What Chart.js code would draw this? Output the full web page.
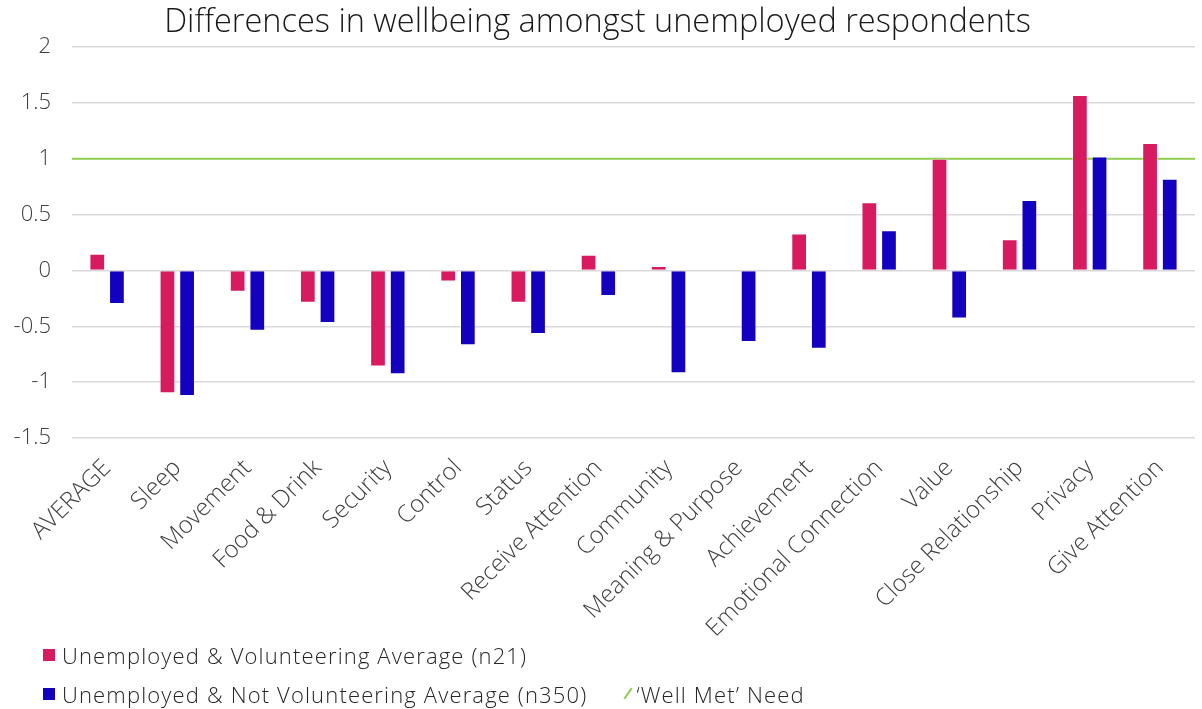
<!DOCTYPE html>
<html>
<head>
<meta charset="utf-8">
<title>Differences in wellbeing amongst unemployed respondents</title>
<script src="https://cdn.jsdelivr.net/npm/chart.js@4.4.1/dist/chart.umd.min.js"></script>
<style>
  body { margin: 0; background: #fff; }
  #wrap { position: relative; width: 1202px; height: 709px; }
  #legend { position: absolute; left: 43px; top: 635px; font-family: "Open Sans", sans-serif; font-weight: 300; font-size: 22px; letter-spacing: 1.15px; color: #262626; }
  #legend .row { height: 39px; display: flex; align-items: center; }
  #legend .item { display: flex; align-items: center; margin-right: 36px; }
  #legend .box { width: 12px; height: 12px; margin-right: 7px; }
  #legend .slash { width: 2px; height: 13px; margin: 0 7px 0 4px; transform: rotate(35deg); }
</style>
</head>
<body>
<div id="wrap">
  <canvas id="wellbeingChart" width="1202" height="709"></canvas>
  <div id="legend"></div>
</div>
<script>
// chart data
const categories = ['AVERAGE', 'Sleep', 'Movement', 'Food & Drink', 'Security', 'Control', 'Status',
  'Receive Attention', 'Community', 'Meaning & Purpose', 'Achievement', 'Emotional Connection',
  'Value', 'Close Relationship', 'Privacy', 'Give Attention'];
const volunteering = [0.15, -1.10, -0.19, -0.29, -0.86, -0.10, -0.29, 0.14, 0.04, 0, 0.33, 0.61, 1.0, 0.28, 1.57, 1.14];
const notVolunteering = [-0.30, -1.125, -0.54, -0.47, -0.93, -0.67, -0.57, -0.23, -0.92, -0.64, -0.70, 0.36, -0.43, 0.63, 1.02, 0.82];
const wellMetLevel = 1;
const seriesNames = ['Unemployed & Volunteering Average (n21)', 'Unemployed & Not Volunteering Average (n350)', '\u2018Well Met\u2019 Need'];
const yMin = -1.5, yMax = 2, yStep = 0.5;

const pink = '#D81B60';
const blue = '#1400BF';
const green = '#92D050';
const fontFamily = '"Open Sans", sans-serif';

// green 'well met' line across the plot, placed with the y scale, drawn behind the bars
const wellMetLine = {
  id: 'wellMetLine',
  beforeDatasetsDraw(chart) {
    let area = chart.chartArea;
    let y = chart.scales.y.getPixelForValue(wellMetLevel);
    let c = chart.ctx;
    c.save();
    c.strokeStyle = green;
    c.lineWidth = 2;
    c.beginPath();
    c.moveTo(area.left, y);
    c.lineTo(area.right, y);
    c.stroke();
    c.restore();
  }
};

let ctx = document.getElementById('wellbeingChart').getContext('2d');
let chart = new Chart(ctx, {
  type: 'bar',
  data: {
    labels: categories,
    datasets: [{
      label: seriesNames[0],
      data: volunteering,
      backgroundColor: pink,
      borderColor: 'rgba(255,255,255,0.4)',
      borderWidth: 1,
      categoryPercentage: 0.56,
      barPercentage: 0.8
    }, {
      label: seriesNames[1],
      data: notVolunteering,
      backgroundColor: blue,
      borderColor: 'rgba(255,255,255,0.4)',
      borderWidth: 1,
      categoryPercentage: 0.56,
      barPercentage: 0.8
    }]
  },
  plugins: [wellMetLine],
  options: {
    responsive: false,
    animation: false,
    layout: { padding: { top: 0, right: 7, bottom: 0, left: 0 } },
    plugins: {
      legend: { display: false },
      tooltip: { enabled: false },
      title: {
        display: true,
        text: 'Differences in wellbeing amongst unemployed respondents',
        color: '#1a1a1a',
        font: { family: fontFamily, size: 32.5, weight: 300, lineHeight: 1.2 },
        padding: { top: 3, bottom: 5 }
      }
    },
    scales: {
      x: {
        grid: { display: false },
        border: { display: false },
        ticks: {
          color: '#404040',
          font: { family: fontFamily, size: 24, weight: 300 },
          maxRotation: 45,
          minRotation: 45,
          autoSkip: false,
          padding: 8
        },
        afterFit: function(scale) { scale.height = 271; }
      },
      y: {
        min: yMin,
        max: yMax,
        grid: { color: '#d9d9d9', lineWidth: 1.5, drawTicks: false },
        border: { display: false },
        ticks: {
          stepSize: yStep,
          color: '#404040',
          font: { family: fontFamily, size: 22, weight: 300 },
          padding: 21,
          callback: function(value) { return String(value); }
        },
        afterFit: function(scale) { scale.width = 72; }
      }
    }
  }
});

// legend laid out like the original: one item on the first row, two on the second
function buildLegend() {
  let colors = [pink, blue, green];
  let rows = [[0], [1, 2]];
  let html = '';
  rows.forEach(function(row) {
    html += '<div class="row">';
    row.forEach(function(i) {
      let mark = i === 2
        ? `<span class="slash" style="background:${colors[i]}"></span>`
        : `<span class="box" style="background:${colors[i]}"></span>`;
      html += `<span class="item">${mark}${seriesNames[i]}</span>`;
    });
    html += '</div>';
  });
  document.getElementById('legend').innerHTML = html;
}
buildLegend();
</script>
</body>
</html>
